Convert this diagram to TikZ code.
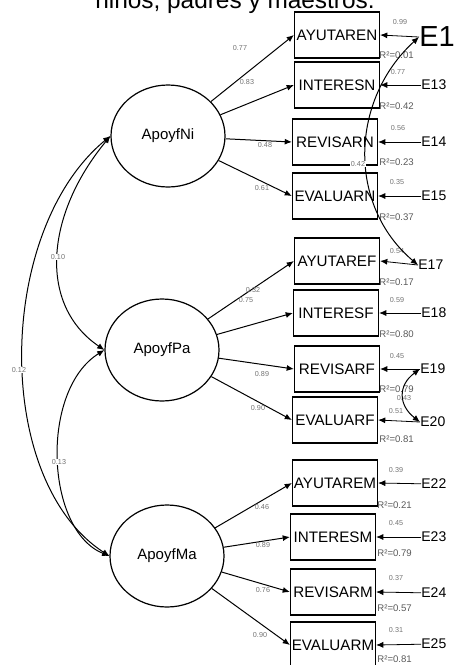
\documentclass[tikz,border=0pt]{standalone}
\usepackage{fontspec}
\setmainfont{Liberation Sans}
\usetikzlibrary{shapes.geometric,arrows.meta}

\tikzset{
  >={Latex[length=3.6pt,width=3pt]},
  obs/.style={draw, line width=0.6pt, minimum width=42.5pt, minimum height=23pt, inner sep=0pt, font=\fontsize{7.6}{8}\selectfont},
  lat/.style={draw, ellipse, line width=0.6pt, minimum width=57pt, minimum height=51pt, inner sep=0pt, font=\fontsize{7.5}{8}\selectfont},
  err/.style={anchor=west, inner sep=0pt, font=\fontsize{7}{7}\selectfont},
  est/.style={inner sep=0.3pt, text=black!55, font=\fontsize{3.6}{4}\selectfont},
  rsq/.style={anchor=west, inner sep=0pt, text=black!65, font=\fontsize{4.8}{5}\selectfont},
  loading/.style={->, line width=0.5pt},
  cov/.style={<->, line width=0.5pt},
}

\begin{document}
\begin{tikzpicture}[x=0.5pt,y=-0.5pt]
  \useasboundingbox (0,0) rectangle (458,665);
  \clip (0,0) rectangle (458,665);

  \node[anchor=base, inner sep=0pt, font=\fontsize{12.2}{13}\selectfont] (title) at (235,8) {niños, padres y maestros.};

  % latent factors
  \node[lat] (Ni) at (168,136) {ApoyfNi};
  \node[lat] (Pa) at (162,350) {ApoyfPa};
  \node[lat] (Ma) at (167,556) {ApoyfMa};

  % indicators
  \node[obs] (AYUTAREN) at (337,35) {AYUTAREN};
  \node[obs] (INTERESN) at (337,85) {INTERESN};
  \node[obs] (REVISARN) at (335,142) {REVISARN};
  \node[obs] (EVALUARN) at (335,196) {EVALUARN};
  \node[obs] (AYUTAREF) at (337,261) {AYUTAREF};
  \node[obs] (INTERESF) at (336,313) {INTERESF};
  \node[obs] (REVISARF) at (337,369) {REVISARF};
  \node[obs] (EVALUARF) at (335,420) {EVALUARF};
  \node[obs] (AYUTAREM) at (335,483) {AYUTAREM};
  \node[obs] (INTERESM) at (333,537) {INTERESM};
  \node[obs] (REVISARM) at (333,592) {REVISARM};
  \node[obs] (EVALUARM) at (333,645) {EVALUARM};

  % error terms
  \node[err, font=\fontsize{14.5}{15}\selectfont] (E12) at (419,37) {E1};
  \node[err] (E13) at (421,85) {E13};
  \node[err] (E14) at (421,142) {E14};
  \node[err] (E15) at (421,196) {E15};
  \node[err] (E17) at (418,265) {E17};
  \node[err] (E18) at (421,313) {E18};
  \node[err] (E19) at (420,369) {E19};
  \node[err] (E20) at (420,422) {E20};
  \node[err] (E22) at (421,484) {E22};
  \node[err] (E23) at (421,537) {E23};
  \node[err] (E24) at (421,593) {E24};
  \node[err] (E25) at (421,644) {E25};

  \draw[->] (E12.west) -- (AYUTAREN.east);
  \draw[->] (E13) -- (INTERESN.east);
  \draw[->] (E14) -- (REVISARN.east);
  \draw[->] (E15) -- (EVALUARN.east);
  \draw[->] (E17.west) -- (AYUTAREF.east);
  \draw[->] (E18) -- (INTERESF.east);
  \draw[->] (E19.west) -- (REVISARF.east);
  \draw[->] (E20.west) -- (EVALUARF.east);
  \draw[->] (E22) -- (AYUTAREM.east);
  \draw[->] (E23) -- (INTERESM.east);
  \draw[->] (E24) -- (REVISARM.east);
  \draw[->] (E25) -- (EVALUARM.east);

  % loadings
  \draw[loading] (Ni) -- (AYUTAREN.west);
  \draw[loading] (Ni) -- (INTERESN.west);
  \draw[loading] (Ni) -- (REVISARN.west);
  \draw[loading] (Ni) -- (EVALUARN.west);
  \draw[loading] (Pa) -- (AYUTAREF.west);
  \draw[loading] (Pa) -- (INTERESF.west);
  \draw[loading] (Pa) -- (REVISARF.west);
  \draw[loading] (Pa) -- (EVALUARF.west);
  \draw[loading] (Ma) -- (AYUTAREM.west);
  \draw[loading] (Ma) -- (INTERESM.west);
  \draw[loading] (Ma) -- (REVISARM.west);
  \draw[loading] (Ma) -- (EVALUARM.west);

  \node[est] at (240,48) {0.77};
  \node[est] at (247,82) {0.83};
  \node[est] at (265,145) {0.48};
  \node[est] at (262,188) {0.61};
  \node[est] at (253,290) {0.32};
  \node[est] at (246,300) {0.75};
  \node[est] at (262,374) {0.89};
  \node[est] at (258,408) {0.90};
  \node[est] at (262,507) {0.46};
  \node[est] at (263,545) {0.89};
  \node[est] at (263,590) {0.76};
  \node[est] at (260,635) {0.90};

  % error variances and R2
  \node[est] at (400,22) {0.99};
  \node[est] at (398,72) {0.77};
  \node[est] at (398,128) {0.56};
  \node[est] at (397,182) {0.35};
  \node[est] at (397,251) {0.54};
  \node[est] at (397,300) {0.59};
  \node[est] at (397,356) {0.45};
  \node[est] at (396,411) {0.51};
  \node[est] at (396,470) {0.39};
  \node[est] at (396,523) {0.45};
  \node[est] at (396,578) {0.37};
  \node[est] at (396,630) {0.31};

  \node[rsq] at (379,55) {R²=0.01};
  \node[rsq] at (379,106) {R²=0.42};
  \node[rsq] at (379,162) {R²=0.23};
  \node[rsq] at (379,217) {R²=0.37};
  \node[rsq] at (379,282) {R²=0.17};
  \node[rsq] at (379,334) {R²=0.80};
  \node[rsq] at (379,389) {R²=0.79};
  \node[rsq] at (379,439) {R²=0.81};
  \node[rsq] at (377,505) {R²=0.21};
  \node[rsq] at (377,553) {R²=0.79};
  \node[rsq] at (377,608) {R²=0.57};
  \node[rsq] at (377,659) {R²=0.81};

  % correlated errors
  \draw[cov] (E12.west) .. controls (350,100) and (347,205) .. (E17.west);
  \node[est, fill=white] at (358,164) {0.42};
  \draw[cov] (E19.west) .. controls (398,385) and (398,405) .. (E20.west);
  \node[est] at (404,398) {0.43};

  % factor covariances
  \draw[cov] (Ni.west) .. controls (45,215) and (38,305) .. (Pa.west);
  \draw[cov] (Ni.west) .. controls (-4,230) and (-8,480) .. (Ma.west);
  \draw[cov] (Pa.west) .. controls (40,390) and (45,530) .. (Ma.west);
  \node[est, fill=white] at (58,257) {0.10};
  \node[est, fill=white] at (19,370) {0.12};
  \node[est, fill=white] at (59,462) {0.13};
\end{tikzpicture}
\end{document}
